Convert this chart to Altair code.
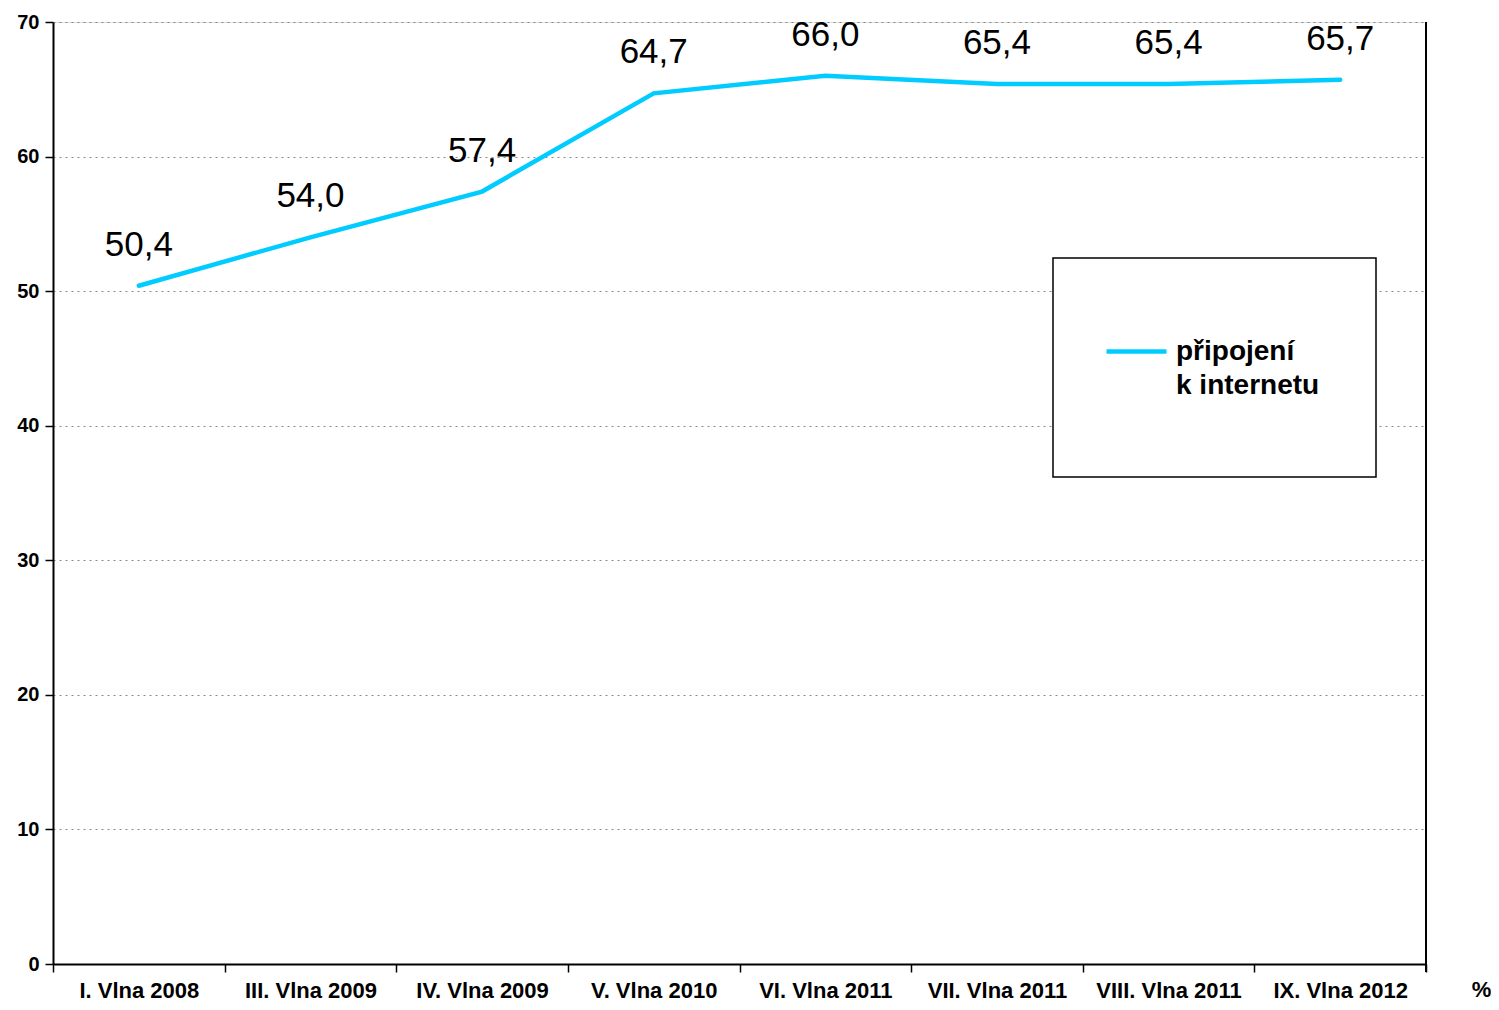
import altair as alt
import pandas as pd

categories = ["I. Vlna 2008", "III. Vlna 2009", "IV. Vlna 2009", "V. Vlna 2010",
              "VI. Vlna 2011", "VII. Vlna 2011", "VIII. Vlna 2011", "IX. Vlna 2012"]
values = [50.4, 54.0, 57.4, 64.7, 66.0, 65.4, 65.4, 65.7]
series_name = "připojení|k internetu"
y_ticks = [0, 10, 20, 30, 40, 50, 60, 70]

W, H = 1373, 942
FONT = "Liberation Sans"
COLOR = "#00CCFF"

df = pd.DataFrame({"cat": categories, "v": values, "s": [series_name] * len(values)})

x_enc = alt.X("cat:N", sort=categories, scale=alt.Scale(paddingInner=0, paddingOuter=0),
              axis=alt.Axis(title="%", titleX=W + 55, titleY=25, titleFontSize=22,
                            titleFontWeight="bold", titleFont=FONT, titleColor="black",
                            titleAlign="center", titleBaseline="middle",
                            labelAngle=0, labelFont=FONT, labelFontSize=22,
                            labelFontWeight="bold", labelColor="black", labelPadding=8,
                            labelBaseline="top",
                            tickBand="extent", tickSize=8, tickColor="black", tickWidth=1.5,
                            domainColor="black", domainWidth=2, grid=False))
y_enc = alt.Y("v:Q", scale=alt.Scale(domain=[0, 70], nice=False, zero=True),
              axis=alt.Axis(title=None, values=y_ticks, labelFont=FONT, labelFontSize=20,
                            labelFontWeight="bold", labelColor="black", labelPadding=6,
                            tickSize=8, tickColor="black", tickWidth=1.5,
                            domainColor="black", domainWidth=2,
                            grid=True, gridColor="#888888", gridDash=[2, 4], gridWidth=1))

line = alt.Chart(df).mark_line(strokeWidth=4.5, strokeCap="round").encode(
    x=x_enc, y=y_enc,
    color=alt.Color("s:N", scale=alt.Scale(domain=[series_name], range=[COLOR]),
                    legend=alt.Legend(title=None, orient="none", legendX=1051, legendY=297,
                                      symbolType="stroke", symbolSize=3600,
                                      symbolStrokeWidth=4.5, labelOffset=7,
                                      labelFont=FONT, labelFontSize=28, labelFontWeight="bold",
                                      labelColor="black", labelLimit=400,
                                      labelExpr="split(datum.label, '|')",
                                      padding=0))
)

labels = alt.Chart(df).transform_calculate(
    lbl="replace(format(datum.v, '.1f'), '.', ',')"
).mark_text(font=FONT, fontSize=35, dy=-30, baseline="alphabetic", color="black").encode(
    x=alt.X("cat:N", sort=categories), y="v:Q", text="lbl:N"
)

box_df = pd.DataFrame({"a": [0]})
box = alt.Chart(box_df).mark_rect(fill="white", stroke="black", strokeWidth=1.5).encode(
    x=alt.value(1000), x2=alt.value(1323), y=alt.value(236), y2=alt.value(455)
)
right = alt.Chart(box_df).mark_rule(color="black", strokeWidth=2).encode(
    x=alt.value(W), y=alt.value(0), y2=alt.value(H + 8)
)

chart = alt.layer(line, labels, box, right).properties(
    width=W, height=H,
    autosize=alt.AutoSizeParams(type="none"),
    padding={"left": 45, "top": 14, "right": 65, "bottom": 38},
).configure_view(stroke=None).configure(
    background="white", style={"guide-label": {"lineHeight": 34}}
)

chart.save("out.html", embed_options={"renderer": "svg", "actions": False})
